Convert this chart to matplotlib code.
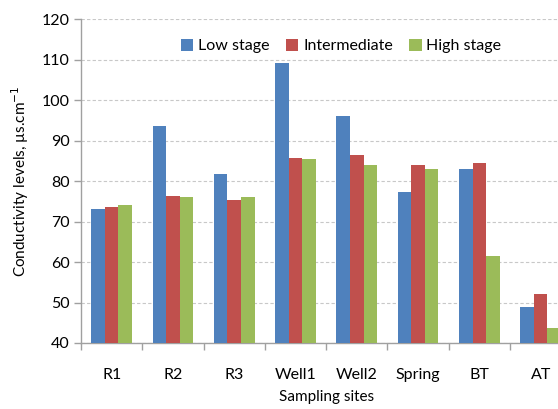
import matplotlib
matplotlib.use("Agg")
import matplotlib.pyplot as plt
import numpy as np

sites = ["R1", "R2", "R3", "Well1", "Well2", "Spring", "BT", "AT"]
low_stage = [73.0, 93.7, 81.8, 109.3, 96.1, 77.3, 83.0, 48.8]
intermediate = [73.6, 76.4, 75.4, 85.8, 86.5, 84.1, 84.4, 52.1]
high_stage = [74.0, 76.2, 76.2, 85.5, 83.9, 83.0, 61.5, 43.8]
series_names = ["Low stage", "Intermediate", "High stage"]
colors = ["#4F81BD", "#C0504D", "#9BBB59"]

plt.rcParams['font.family'] = ['Lato', 'DejaVu Sans']

fig = plt.figure(figsize=(5.58, 4.09), dpi=100)
ax = fig.add_axes([81/558, 66/409, 490.3/558, 323.7/409])

x = np.arange(len(sites))
w = 0.222
for i, (vals, name, c) in enumerate(zip([low_stage, intermediate, high_stage], series_names, colors)):
    ax.bar(x + (i - 1) * w, vals, width=w, color=c, label=name, zorder=3, bottom=0)

ax.set_xlim(-0.5, len(sites) - 0.5)
ax.set_ylim(40, 120)
ax.set_yticks(np.arange(40, 121, 10))
ax.yaxis.grid(True, linestyle=(0, (3, 2)), color="#C8C8C8", linewidth=0.8, zorder=0)
ax.set_axisbelow(True)

ax.set_xticks(x)
ax.set_xticklabels(sites)
ax.set_xticks(np.arange(-0.5, len(sites) - 0.4, 1), minor=True)
ax.tick_params(axis='x', which='major', length=0, pad=18, labelsize=11.5)
ax.tick_params(axis='x', which='minor', length=5, color="#A0A0A0", width=1)
ax.tick_params(axis='y', length=5, color="#A0A0A0", width=1, labelsize=11.5, pad=3)

for s in ["top", "right"]:
    ax.spines[s].set_visible(False)
for s in ["left", "bottom"]:
    ax.spines[s].set_color("#A0A0A0")
    ax.spines[s].set_linewidth(1)

ax.set_ylabel("Conductivity levels, µs.cm$^{-1}$", fontsize=11, labelpad=8)
ax.set_xlabel("Sampling sites", fontsize=11, labelpad=6)

leg = ax.legend(ncol=3, frameon=False, loc="center", bbox_to_anchor=(341/558, (409-46)/409),
                bbox_transform=fig.transFigure, fontsize=11.5, handlelength=0.8, handleheight=0.8,
                handletextpad=0.3, columnspacing=1.0)

fig.savefig("out.png", dpi=100)
